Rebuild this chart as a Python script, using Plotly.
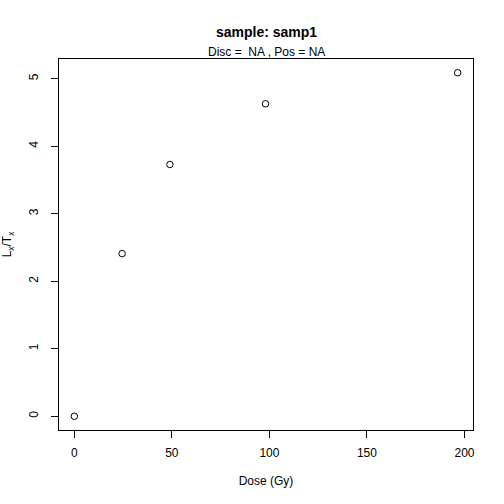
import plotly.graph_objects as go

# Dose points and normalised signal (Lx/Tx)
dose = [0, 24.5, 49, 98, 196.5]
lxtx = [0, 2.41, 3.73, 4.63, 5.09]

x_ticks = [0, 50, 100, 150, 200]
y_ticks = [0, 1, 2, 3, 4, 5]

fnt = "Liberation Sans, Arial, Helvetica, sans-serif"

fig = go.Figure()
fig.add_trace(go.Scatter(
    x=dose, y=lxtx, mode="markers",
    marker=dict(symbol="circle-open", size=6.5, color="black", line=dict(width=1)),
    showlegend=False,
))

# R style padding of 4% on each side
xr = max(dose) - min(dose)
yr = max(lxtx) - min(lxtx)

fig.update_xaxes(
    range=[min(dose) - 0.04 * xr, max(dose) + 0.04 * xr],
    tickvals=x_ticks, ticks="outside", ticklen=7, tickcolor="black",
    ticklabelstandoff=5, automargin=False,
    showline=True, linecolor="black", linewidth=1, mirror=True,
    showgrid=False, zeroline=False,
    tickfont=dict(size=12, color="black", family=fnt),
    title=dict(text="Dose (Gy)", font=dict(size=12, color="black", family=fnt), standoff=17),
)
fig.update_yaxes(
    range=[min(lxtx) - 0.04 * yr, max(lxtx) + 0.04 * yr],
    tickvals=y_ticks, ticks="outside", ticklen=7, tickcolor="black",
    tickangle=-90, ticklabelstandoff=8, automargin=False,
    showline=True, linecolor="black", linewidth=1, mirror=True,
    showgrid=False, zeroline=False,
    tickfont=dict(size=12, color="black", family=fnt),
    title=dict(text="L<sub>x</sub>/T<sub>x</sub>", font=dict(size=12, color="black", family=fnt), standoff=13),
)

fig.add_annotation(
    text="<b>sample: samp1</b>", xref="paper", yref="paper", x=0.5, y=1,
    yanchor="middle", yshift=27, showarrow=False,
    font=dict(size=14, color="black", family=fnt),
)
fig.add_annotation(
    text="Disc =  NA , Pos = NA", xref="paper", yref="paper", x=0.5, y=1,
    yanchor="middle", yshift=7, showarrow=False,
    font=dict(size=12, color="black", family=fnt),
)

fig.update_layout(
    width=504, height=504,
    margin=dict(l=59, r=31, t=59, b=74),
    plot_bgcolor="white", paper_bgcolor="white",
)

fig.write_html("out.html", config={"displayModeBar": False},
               post_script="document.body.style.margin='0';")
